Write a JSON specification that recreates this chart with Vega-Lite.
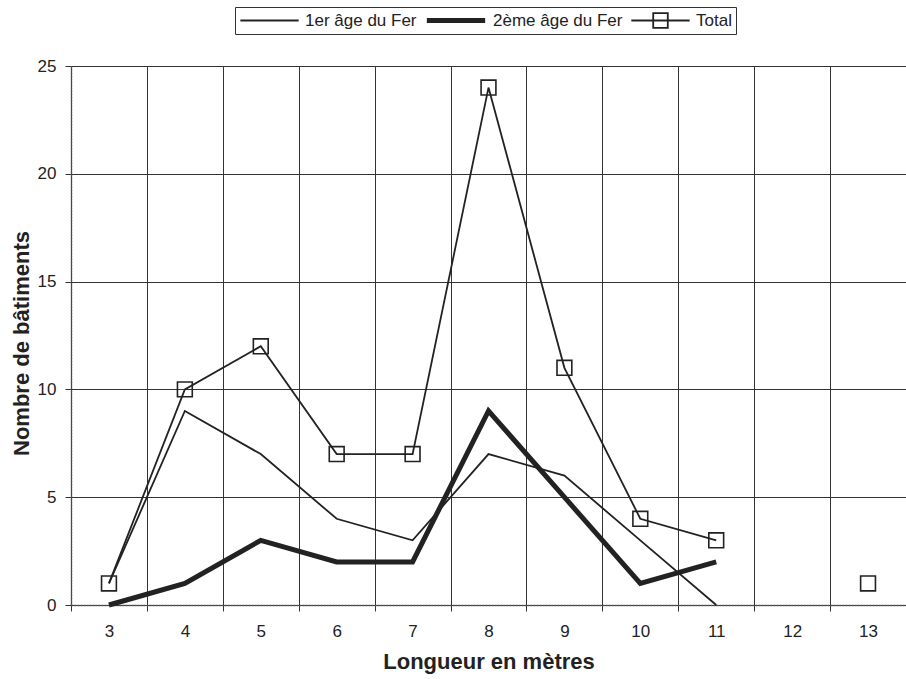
{
  "$schema": "https://vega.github.io/schema/vega-lite/v6.json",
  "width": 835,
  "height": 539,
  "autosize": {"type": "none"},
  "padding": {"left": 71, "top": 66, "right": 0, "bottom": 74},
  "background": "white",
  "config": {
    "view": {"stroke": null},
    "font": "Liberation Sans",
    "axis": {"labelFont": "Liberation Sans", "titleFont": "Liberation Sans", "labelColor": "#222", "titleColor": "#222"}
  },
  "data": {
    "values": [
      {"longueur": 3, "serie": "1er âge du Fer", "n": 1},
      {"longueur": 4, "serie": "1er âge du Fer", "n": 9},
      {"longueur": 5, "serie": "1er âge du Fer", "n": 7},
      {"longueur": 6, "serie": "1er âge du Fer", "n": 4},
      {"longueur": 7, "serie": "1er âge du Fer", "n": 3},
      {"longueur": 8, "serie": "1er âge du Fer", "n": 7},
      {"longueur": 9, "serie": "1er âge du Fer", "n": 6},
      {"longueur": 10, "serie": "1er âge du Fer", "n": 3},
      {"longueur": 11, "serie": "1er âge du Fer", "n": 0},
      {"longueur": 3, "serie": "2ème âge du Fer", "n": 0},
      {"longueur": 4, "serie": "2ème âge du Fer", "n": 1},
      {"longueur": 5, "serie": "2ème âge du Fer", "n": 3},
      {"longueur": 6, "serie": "2ème âge du Fer", "n": 2},
      {"longueur": 7, "serie": "2ème âge du Fer", "n": 2},
      {"longueur": 8, "serie": "2ème âge du Fer", "n": 9},
      {"longueur": 9, "serie": "2ème âge du Fer", "n": 5},
      {"longueur": 10, "serie": "2ème âge du Fer", "n": 1},
      {"longueur": 11, "serie": "2ème âge du Fer", "n": 2},
      {"longueur": 3, "serie": "Total", "n": 1},
      {"longueur": 4, "serie": "Total", "n": 10},
      {"longueur": 5, "serie": "Total", "n": 12},
      {"longueur": 6, "serie": "Total", "n": 7},
      {"longueur": 7, "serie": "Total", "n": 7},
      {"longueur": 8, "serie": "Total", "n": 24},
      {"longueur": 9, "serie": "Total", "n": 11},
      {"longueur": 10, "serie": "Total", "n": 4},
      {"longueur": 11, "serie": "Total", "n": 3},
      {"longueur": 12, "serie": "Total", "n": null},
      {"longueur": 13, "serie": "Total", "n": 1}
    ]
  },
  "encoding": {
    "x": {
      "field": "longueur",
      "type": "quantitative",
      "scale": {"domain": [2.5, 13.5], "nice": false, "zero": false},
      "axis": {
        "title": "Longueur en mètres",
        "titleFontSize": 22,
        "titleFontWeight": "bold",
        "titlePadding": 12,
        "values": [2.5, 3, 3.5, 4, 4.5, 5, 5.5, 6, 6.5, 7, 7.5, 8, 8.5, 9, 9.5, 10, 10.5, 11, 11.5, 12, 12.5, 13, 13.5],
        "labelExpr": "datum.value % 1 == 0 ? format(datum.value, 'd') : ''",
        "labelFontSize": 17,
        "labelPadding": 12,
        "labelOverlap": false,
        "labelFlush": false,
        "grid": true,
        "gridColor": "#333",
        "gridWidth": 1,
        "gridOpacity": {"condition": {"test": "datum.value % 1 != 0", "value": 1}, "value": 0},
        "tickOpacity": {"condition": {"test": "datum.value % 1 != 0", "value": 1}, "value": 0},
        "tickColor": "#333",
        "tickSize": 6,
        "domainColor": "#555",
        "domainDash": [2, 1],
        "domainWidth": 1.5
      }
    },
    "y": {
      "field": "n",
      "type": "quantitative",
      "scale": {"domain": [0, 25], "nice": false},
      "axis": {
        "title": "Nombre de bâtiments",
        "titleFontSize": 22,
        "titleFontWeight": "bold",
        "titlePadding": 4,
        "titleY": 277,
        "values": [0, 5, 10, 15, 20, 25],
        "labelFontSize": 17,
        "labelPadding": 9,
        "grid": true,
        "gridColor": "#333",
        "gridWidth": 1,
        "tickColor": "#333",
        "tickSize": 6,
        "domainColor": "#555",
        "domainDash": [2, 1],
        "domainWidth": 1.5
      }
    }
  },
  "layer": [
    {
      "mark": {"type": "line", "color": "#222", "invalid": "break-paths-filter-domains", "strokeJoin": "miter"},
      "encoding": {
        "detail": {"field": "serie"},
        "strokeWidth": {
          "field": "serie",
          "type": "nominal",
          "scale": {"type": "ordinal", "domain": ["1er âge du Fer", "2ème âge du Fer", "Total"], "range": [1.8, 5, 1.8]},
          "legend": {
            "title": null,
            "orient": "none",
            "legendX": 164,
            "legendY": -59,
            "direction": "horizontal",
            "symbolType": "stroke",
            "symbolSize": 3400,
            "clipHeight": 19,
            "symbolStrokeColor": "#222",
            "labelFontSize": 17,
            "labelFont": "Liberation Sans",
            "labelColor": "#222",
            "strokeColor": "#333",
            "padding": 4,
            "columnPadding": 7,
            "labelOffset": 5,
            "encode": {
              "symbols": {
                "update": {
                  "shape": {"signal": "datum.value === 'Total' ? 'M-1,0H1M-0.25,-0.25H0.25V0.25H-0.25Z' : 'stroke'"},
                  "fill": {"value": "transparent"}
                }
              }
            }
          }
        }
      }
    },
    {
      "transform": [{"filter": "datum.serie === 'Total' && isValid(datum.n)"}],
      "mark": {"type": "point", "shape": "square", "filled": false, "fill": "transparent", "stroke": "#222", "strokeWidth": 1.6, "size": 220, "opacity": 1}
    }
  ]
}
